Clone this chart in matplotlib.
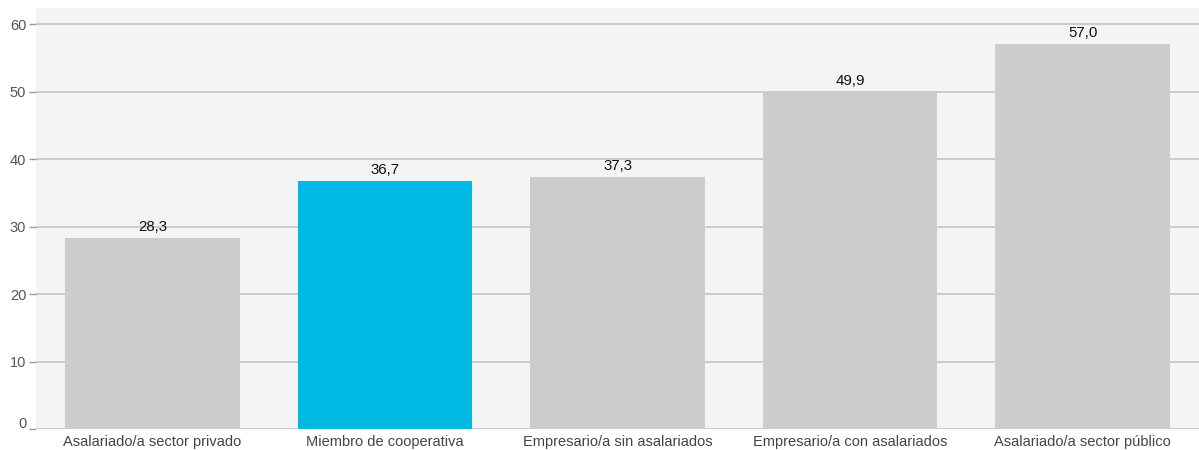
import matplotlib
matplotlib.use("Agg")
import matplotlib.pyplot as plt
import matplotlib.transforms as mtransforms

categories = ["Asalariado/a sector privado", "Miembro de cooperativa",
              "Empresario/a sin asalariados", "Empresario/a con asalariados",
              "Asalariado/a sector público"]
values = [28.3, 36.7, 37.3, 49.9, 57.0]
highlight = "Miembro de cooperativa"

plt.rcParams['font.family'] = ['Liberation Sans', 'DejaVu Sans']

fig = plt.figure(figsize=(11.99, 4.5), dpi=100)
ax = fig.add_axes([36/1199, 21/450, 1 - 36/1199, 421/450])
ax.set_facecolor('#f4f4f4')

colors = ['#00b9e3' if c == highlight else '#cccccc' for c in categories]
x = list(range(len(categories)))
bars = ax.bar(x, values, width=0.75, color=colors, zorder=3)

for xi, v in zip(x, values):
    ax.text(xi, v + 0.6, f"{v:.1f}".replace('.', ','), ha='center', va='bottom',
            fontsize=10.8, color='#111111', zorder=4)

ax.set_xlim(-0.5, 4.5)
ax.set_ylim(0, 62.4)
ax.set_yticks([0, 10, 20, 30, 40, 50, 60])
ax.set_xticks(x)
ax.set_xticklabels(categories)
ax.grid(axis='y', color='#c4c4c4', linewidth=1.2, zorder=1)
ax.tick_params(axis='y', colors='#999999', labelcolor='#555555', labelsize=10.5,
               length=5, width=1, pad=2)
ax.tick_params(axis='x', length=0, labelcolor='#444444', labelsize=10.5, pad=4)
for s in ax.spines.values():
    s.set_visible(False)

fig.canvas.draw()
lbl0 = ax.get_yticklabels()[0]
lbl0.set_transform(lbl0.get_transform() + mtransforms.ScaledTranslation(0, 7/100, fig.dpi_scale_trans))

fig.savefig("out.png", dpi=100, facecolor='white')
